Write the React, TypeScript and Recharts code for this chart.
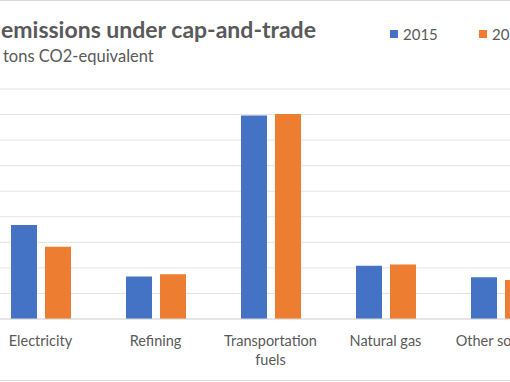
import React from 'react';
import { BarChart, Bar, XAxis, YAxis, CartesianGrid, Text } from 'recharts';

const categories = ['Electricity', 'Refining', 'Transportation fuels', 'Natural gas', 'Other sources'];
const values2015 = [73.5, 33.2, 159.2, 41.6, 32.7];
const values2016 = [56.5, 35.0, 160.5, 42.7, 30.6];
const yTicks = [0, 20, 40, 60, 80, 100, 120, 140, 160, 180];
const seriesNames = ['2015', '2016'];
const seriesColors = ['#4472C4', '#ED7D31'];

const data = categories.map((c, i) => ({
  name: c,
  y2015: values2015[i],
  y2016: values2016[i],
}));

const FONT = 'Lato, "Open Sans", sans-serif';
const GREY = '#595959';

const CategoryTick = (props: any) => {
  const { x, y, payload } = props;
  return (
    <Text
      x={x}
      y={y}
      dy={9}
      width={100}
      textAnchor="middle"
      verticalAnchor="start"
      lineHeight={19}
      fill={GREY}
      fontSize={14.5}
      fontFamily={FONT}
    >
      {payload.value}
    </Text>
  );
};

const App: React.FC = () => {
  return (
    <div style={{ position: 'fixed', left: 0, top: 0, width: 510, height: 382, overflow: 'hidden', background: '#fff' }}>
      <div
        style={{
          position: 'absolute', left: 0, top: 0, width: 510, height: 379,
          borderTop: '1px solid #D9D9D9', borderBottom: '1px solid #D9D9D9',
        }}
      />
      <div style={{ position: 'absolute', left: 1, top: 15, fontFamily: FONT, fontWeight: 700, fontSize: 23, color: GREY, whiteSpace: 'nowrap' }}>
        emissions under cap-and-trade
      </div>
      <div style={{ position: 'absolute', left: 3, top: 46, fontFamily: FONT, fontSize: 16.5, color: GREY, whiteSpace: 'nowrap' }}>
        tons CO2-equivalent
      </div>
      <div style={{ position: 'absolute', left: 390, top: 25, display: 'flex', fontFamily: FONT, fontSize: 15, color: GREY }}>
        {seriesNames.map((s, i) => (
          <div key={s} style={{ display: 'flex', alignItems: 'center', width: 89 }}>
            <span style={{ width: 8, height: 8, background: seriesColors[i], marginRight: 5, display: 'inline-block' }} />
            <span>{s}</span>
          </div>
        ))}
      </div>
      <div style={{ position: 'absolute', left: -17, top: 0 }}>
        <BarChart
          width={575}
          height={382}
          data={data}
          margin={{ top: 89, right: 0, left: 0, bottom: 0 }}
          barSize={26}
          barGap={8}
        >
          <CartesianGrid vertical={false} stroke="#E3E3E3" />
          <YAxis hide domain={[0, 180]} ticks={yTicks} />
          <XAxis
            dataKey="name"
            height={63}
            tickLine={false}
            axisLine={{ stroke: '#D9D9D9' }}
            tick={<CategoryTick />}
            interval={0}
          />
          <Bar dataKey="y2015" name={seriesNames[0]} fill={seriesColors[0]} isAnimationActive={false} />
          <Bar dataKey="y2016" name={seriesNames[1]} fill={seriesColors[1]} isAnimationActive={false} />
        </BarChart>
      </div>
    </div>
  );
};

export default App;
